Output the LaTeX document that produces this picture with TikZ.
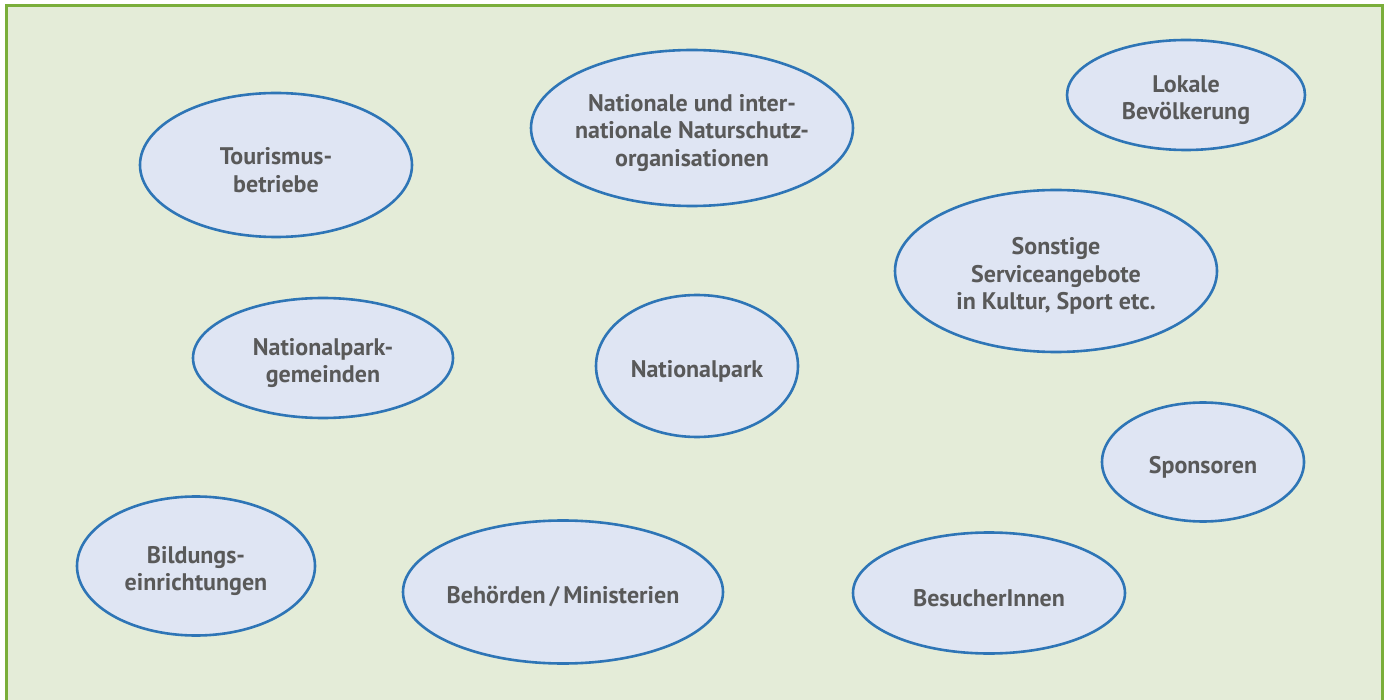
\documentclass[tikz,border=0pt]{standalone}
\usepackage{fontspec}
\setmainfont{PT Sans}
\usetikzlibrary{shapes.geometric}
\definecolor{framegreen}{HTML}{7AAE3A}
\definecolor{bggreen}{HTML}{E4ECD8}
\definecolor{ellfill}{HTML}{DFE5F3}
\definecolor{ellline}{HTML}{2E75B6}
\definecolor{txtgray}{HTML}{595959}
\tikzset{
  bubble/.style={ellipse, draw=ellline, fill=ellfill, line width=2.6pt, inner sep=0pt},
  bubtext/.style={align=center, text=txtgray, inner sep=0pt, yshift=-5pt,
    font=\fontsize{24}{27.5}\selectfont\bfseries}
}
\begin{document}
\begin{tikzpicture}[x=1pt,y=-1pt]
\useasboundingbox (0,0) rectangle (1389,700);
\fill[white] (0,0) rectangle (1389,700);
\path[fill=bggreen, draw=framegreen, line width=3pt] (6,6) rectangle (1382,712);
\node[bubble, minimum width=272pt, minimum height=144pt, label={[bubtext]center:{Tourismus-\\betriebe}}] (tour) at (276,165) {};
\node[bubble, minimum width=322pt, minimum height=156pt, label={[bubtext]center:{Nationale und inter-\\nationale Naturschutz-\\organisationen}}] (nat) at (692,128) {};
\node[bubble, minimum width=238pt, minimum height=110pt, label={[bubtext]center:{Lokale\\Bevölkerung}}] (lok) at (1186,95) {};
\node[bubble, minimum width=322pt, minimum height=162pt, label={[bubtext]center:{Sonstige\\Serviceangebote\\in Kultur, Sport etc.}}] (sons) at (1056,271) {};
\node[bubble, minimum width=260pt, minimum height=120pt, label={[bubtext]center:{Nationalpark-\\gemeinden}}] (gem) at (323,358) {};
\node[bubble, minimum width=202pt, minimum height=142pt, label={[bubtext]center:{Nationalpark}}] (np) at (697,366) {};
\node[bubble, minimum width=202pt, minimum height=119pt, label={[bubtext]center:{Sponsoren}}] (spon) at (1203,462) {};
\node[bubble, minimum width=238pt, minimum height=139pt, label={[bubtext]center:{Bildungs-\\einrichtungen}}] (bild) at (196,566) {};
\node[bubble, minimum width=320pt, minimum height=143pt, label={[bubtext]center:{Behörden\,/\,Ministerien}}] (beh) at (563,592) {};
\node[bubble, minimum width=272pt, minimum height=121pt, label={[bubtext]center:{BesucherInnen}}] (bes) at (989,593) {};
\end{tikzpicture}
\end{document}
